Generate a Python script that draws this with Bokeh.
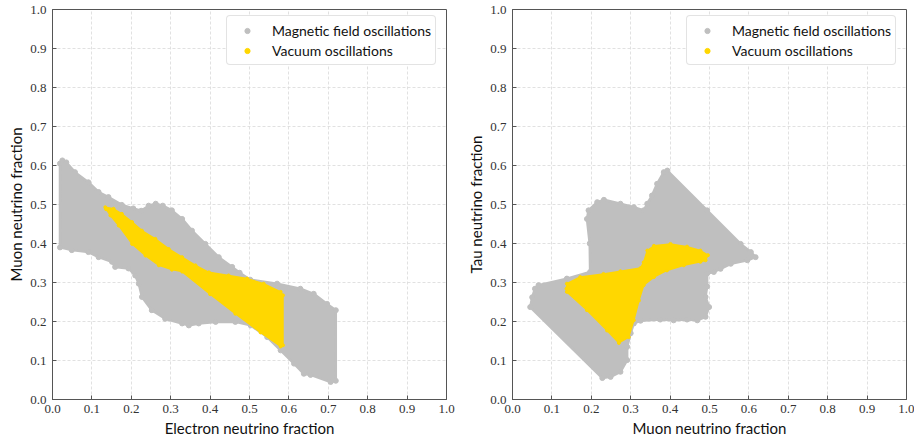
from bokeh.plotting import figure
from bokeh.layouts import row
from bokeh.models import FixedTicker, PrintfTickFormatter, Legend, LegendItem, Range1d
from bokeh.embed import file_html
from bokeh.resources import INLINE

# ---------------- data ----------------
ticks = [0.0, 0.1, 0.2, 0.3, 0.4, 0.5, 0.6, 0.7, 0.8, 0.9, 1.0]

series_names = ["Magnetic field oscillations", "Vacuum oscillations"]

# Left panel: electron fraction (x) vs muon fraction (y)
mag_e_x = [0.019, 0.025, 0.035, 0.057, 0.091, 0.117, 0.142, 0.176, 0.205, 0.225,
           0.244, 0.262, 0.280, 0.303, 0.329, 0.354, 0.388, 0.422, 0.456, 0.475,
           0.502, 0.570, 0.629, 0.663, 0.697, 0.719, 0.719, 0.706, 0.655, 0.638,
           0.613, 0.579, 0.545, 0.503, 0.464, 0.414, 0.371, 0.346, 0.329, 0.286,
           0.252, 0.227, 0.219, 0.210, 0.193, 0.159, 0.151, 0.117, 0.091, 0.049,
           0.019]
mag_e_y = [0.605, 0.613, 0.608, 0.583, 0.557, 0.532, 0.519, 0.499, 0.490, 0.484,
           0.497, 0.502, 0.497, 0.485, 0.463, 0.433, 0.399, 0.365, 0.340, 0.325,
           0.307, 0.297, 0.284, 0.271, 0.245, 0.229, 0.048, 0.045, 0.063, 0.066,
           0.092, 0.126, 0.160, 0.190, 0.199, 0.199, 0.195, 0.190, 0.195, 0.207,
           0.229, 0.263, 0.297, 0.318, 0.336, 0.340, 0.353, 0.365, 0.378, 0.383,
           0.390]

vac_e_x = [0.134, 0.155, 0.176, 0.202, 0.227, 0.261, 0.295, 0.329, 0.363, 0.397,
           0.447, 0.494, 0.536, 0.579, 0.585, 0.585, 0.579, 0.528, 0.464, 0.400,
           0.329, 0.303, 0.270, 0.236, 0.202, 0.168, 0.147, 0.136]
vac_e_y = [0.493, 0.489, 0.476, 0.455, 0.433, 0.412, 0.386, 0.365, 0.344, 0.326,
           0.318, 0.310, 0.297, 0.276, 0.267, 0.139, 0.136, 0.172, 0.220, 0.270,
           0.328, 0.333, 0.344, 0.369, 0.399, 0.446, 0.472, 0.488]

# Right panel: muon fraction (x) vs tau fraction (y)
mag_m_x = [0.045, 0.050, 0.057, 0.066, 0.138, 0.197, 0.196, 0.189, 0.193, 0.215,
           0.232, 0.274, 0.308, 0.333, 0.342, 0.354, 0.367, 0.384, 0.393, 0.494,
           0.579, 0.605, 0.617, 0.596, 0.554, 0.528, 0.511, 0.494, 0.494, 0.490,
           0.499, 0.490, 0.469, 0.443, 0.409, 0.375, 0.325, 0.308, 0.300, 0.291,
           0.291, 0.274, 0.249, 0.228]
mag_m_y = [0.237, 0.262, 0.284, 0.293, 0.310, 0.327, 0.400, 0.463, 0.485, 0.506,
           0.512, 0.502, 0.493, 0.485, 0.502, 0.523, 0.553, 0.583, 0.587, 0.485,
           0.399, 0.378, 0.365, 0.357, 0.348, 0.335, 0.327, 0.323, 0.290, 0.263,
           0.237, 0.212, 0.203, 0.205, 0.203, 0.205, 0.202, 0.195, 0.170, 0.135,
           0.101, 0.071, 0.058, 0.055]

vac_m_x = [0.137, 0.138, 0.172, 0.231, 0.274, 0.325, 0.333, 0.342, 0.359, 0.401,
           0.443, 0.477, 0.496, 0.490, 0.477, 0.435, 0.392, 0.359, 0.333, 0.321,
           0.308, 0.295, 0.270, 0.240, 0.189, 0.138]
vac_m_y = [0.284, 0.297, 0.314, 0.322, 0.329, 0.337, 0.352, 0.382, 0.394, 0.399,
           0.392, 0.382, 0.370, 0.357, 0.353, 0.344, 0.331, 0.314, 0.293, 0.254,
           0.203, 0.160, 0.145, 0.177, 0.229, 0.276]

x_labels = ["Electron neutrino fraction", "Muon neutrino fraction"]
y_labels = ["Muon neutrino fraction", "Tau neutrino fraction"]

GRAY = "#bfbfbf"
GOLD = "#ffd700"


def make_panel(mx, my, vx, vy, xlabel, ylabel, width, border_left, border_right):
    p = figure(width=width, height=442, output_backend="svg", toolbar_location=None,
               x_range=Range1d(0, 1), y_range=Range1d(0, 1),
               min_border_left=border_left, min_border_right=border_right,
               min_border_top=9, min_border_bottom=43)
    p.background_fill_color = "white"
    p.border_fill_color = "white"
    p.outline_line_color = "#555555"
    p.outline_line_width = 1

    p.patch(mx, my, fill_color=GRAY, line_color=GRAY, line_width=2.5)
    r_mag = p.scatter(mx, my, marker="circle", size=5, color=GRAY)
    p.patch(vx, vy, fill_color=GOLD, line_color=GOLD, line_width=1.5)
    r_vac = p.scatter(vx, vy, marker="circle", size=3, color=GOLD)

    legend = Legend(items=[LegendItem(label=series_names[0], renderers=[r_mag]),
                           LegendItem(label=series_names[1], renderers=[r_vac])],
                    location=(174, 334), margin=0, padding=4, spacing=0,
                    glyph_width=32, glyph_height=13, label_height=20,
                    label_standoff=9, label_text_font="Lato",
                    label_text_font_size="14px", label_text_color="#111111",
                    border_line_color="#c8c8c8", border_line_width=1,
                    background_fill_color="white", background_fill_alpha=1.0)
    if "border_radius" in Legend.properties():
        legend.border_radius = 4
    p.add_layout(legend)

    for ax in (p.xaxis[0], p.yaxis[0]):
        ax.ticker = FixedTicker(ticks=ticks)
        ax.formatter = PrintfTickFormatter(format="%.1f")
        ax.major_tick_in = 4
        ax.major_tick_out = 0
        ax.minor_tick_line_color = None
        ax.axis_line_color = "#555555"
        ax.major_tick_line_color = "#555555"
        ax.major_label_text_font = "Liberation Serif"
        ax.major_label_text_font_size = "13px"
        ax.major_label_text_color = "#333333"
        ax.axis_label_text_font = "Lato"
        ax.axis_label_text_font_size = "15px"
        ax.axis_label_text_font_style = "normal"
        ax.axis_label_text_color = "#111111"
    p.xaxis.major_label_standoff = 5
    p.xaxis.axis_label_standoff = 3
    p.yaxis.major_label_standoff = 6
    p.yaxis.axis_label_standoff = 2
    p.xaxis.axis_label = xlabel
    p.yaxis.axis_label = ylabel

    p.xgrid.ticker = FixedTicker(ticks=ticks)
    p.ygrid.ticker = FixedTicker(ticks=ticks)
    for g in (p.xgrid[0], p.ygrid[0]):
        g.grid_line_color = "#d9d9d9"
        g.grid_line_dash = "3 2"
        g.grid_line_width = 0.8
    return p


p1 = make_panel(mag_e_x, mag_e_y, vac_e_x, vac_e_y, x_labels[0], y_labels[0], 456, 52, 10)
p2 = make_panel(mag_m_x, mag_m_y, vac_m_x, vac_m_y, x_labels[1], y_labels[1], 458, 56, 8)

layout = row(p1, p2)
open("out.html", "w").write(file_html(layout, INLINE))
